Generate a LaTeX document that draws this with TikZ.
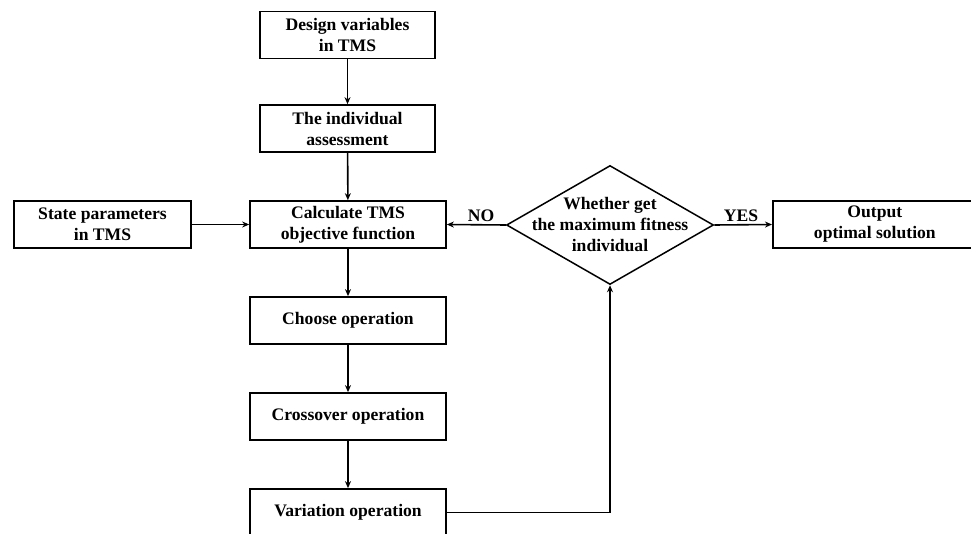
\documentclass[tikz,border=0pt]{standalone}
\usepackage{fontspec}
\setmainfont{Liberation Serif}
\usetikzlibrary{arrows.meta,shapes.geometric}
\begin{document}
\begin{tikzpicture}[x=1pt,y=-1pt,
  every node/.style={font=\fontsize{17.6}{21}\selectfont\bfseries},
  box/.style={draw, line width=1.7pt, minimum height=47, inner sep=0pt, align=center},
  conn/.style={line width=1.6pt, -{Stealth[length=7pt,width=6pt]}},
  lab/.style={inner sep=0pt}]
\useasboundingbox (0,0) rectangle (971,534);
\clip (0,0) rectangle (971,534);
\fill[white] (0,0) rectangle (971,534);
\node[box, minimum width=175] (d1) at (347.5,35) {Design variables\\in TMS};
\node[box, minimum width=175] (d2) at (347.5,128.5) {The individual\\assessment};
\node[box, minimum width=196] (calc) at (348,224.5) {Calculate TMS\\objective function};
\node[box, minimum width=177] (state) at (102.5,224.5) {State parameters\\in TMS};
\node[box, minimum width=196] (choose) at (348,320.5) {Choose operation};
\node[box, minimum width=196] (cross) at (348,416.5) {Crossover operation};
\node[box, minimum width=196] (var) at (348,512.5) {Variation operation};
\node[draw, diamond, line width=1.5pt, minimum width=207, minimum height=119, inner sep=0pt] (dec) at (610,225) {};
\node[align=center] (dectext) at (610,225) {Whether get\\the maximum fitness\\individual};
\node[box, minimum width=204, anchor=west] (out) at (772,224.5) {Output\\optimal solution};
\node[lab] (no) at (481,216) {NO};
\node[lab] (yes) at (741,216) {YES};
\draw[conn] (d1) -- (d2);
\draw[conn] (d2) -- (calc);
\draw[conn] (state) -- (calc);
\draw[conn] (calc) -- (choose);
\draw[conn] (choose) -- (cross);
\draw[conn] (cross) -- (var);
\draw[conn] (dec.west) -- (calc.east);
\draw[conn] (dec.east) -- (out.west);
\draw[conn] (var.east) -| (dec.south);
\end{tikzpicture}
\end{document}
